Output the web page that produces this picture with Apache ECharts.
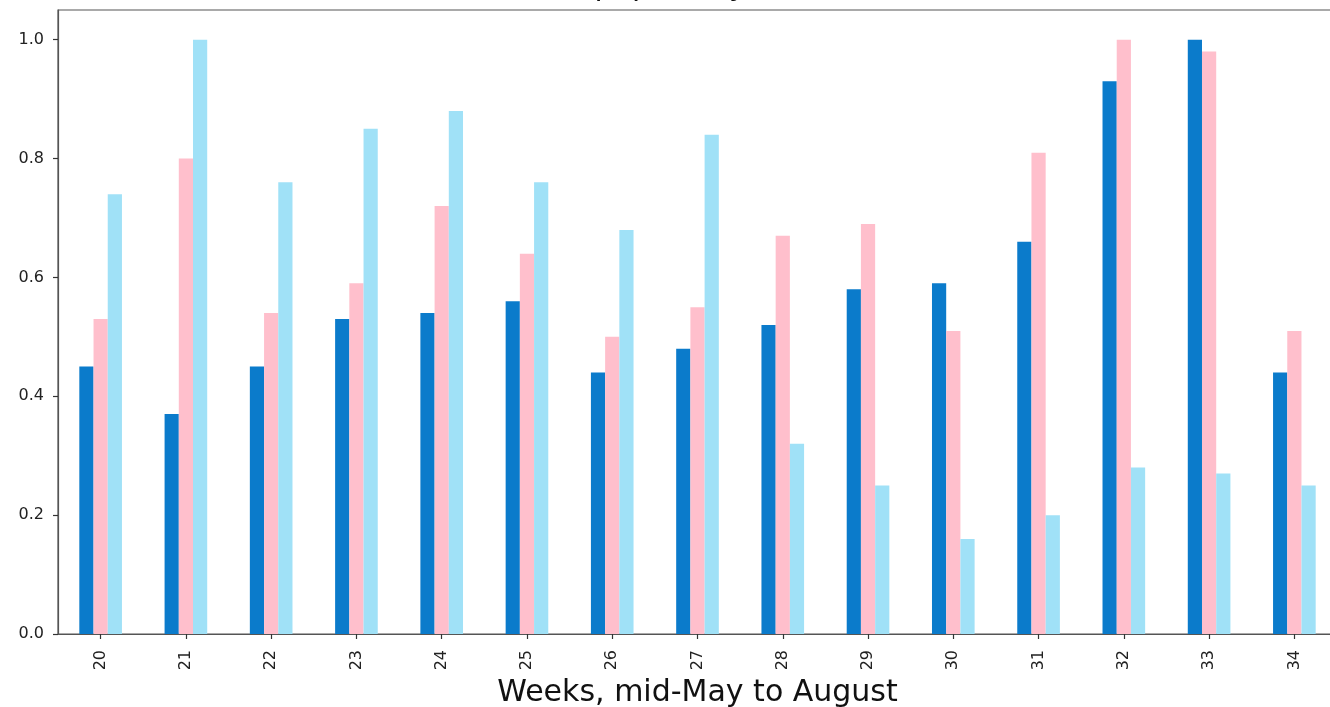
<!DOCTYPE html>
<html>
<head>
<meta charset="utf-8">
<script src="https://cdn.jsdelivr.net/npm/echarts@6/dist/echarts.min.js"></script>
<style>
html,body{margin:0;padding:0;background:#fff;}
#chart{width:1330px;height:707px;}
</style>
</head>
<body>
<div id="chart"></div>
<script>
var weeks = ['20','21','22','23','24','25','26','27','28','29','30','31','32','33','34'];
var seriesBlue = [0.45, 0.37, 0.45, 0.53, 0.54, 0.56, 0.44, 0.48, 0.52, 0.58, 0.59, 0.66, 0.93, 1.0, 0.44];
var seriesPink = [0.53, 0.80, 0.54, 0.59, 0.72, 0.64, 0.50, 0.55, 0.67, 0.69, 0.51, 0.81, 1.0, 0.98, 0.51];
var seriesLight = [0.74, 1.0, 0.76, 0.85, 0.88, 0.76, 0.68, 0.84, 0.32, 0.25, 0.16, 0.20, 0.28, 0.27, 0.25];
var yTicks = [0, 0.2, 0.4, 0.6, 0.8, 1.0];
var titleText = 'Relative popularity of the colors';
var xName = 'Weeks, mid-May to August';

var FONT = 'DejaVu Sans';
var AXIS_COLOR = '#555';
var chart = echarts.init(document.getElementById('chart'), null, {renderer: 'canvas'});
chart.setOption({
  animation: false,
  backgroundColor: '#fff',
  title: {
    text: titleText,
    left: 464,
    top: -28,
    padding: 0,
    textStyle: {fontFamily: FONT, fontSize: 30, fontWeight: 'normal', color: '#111'}
  },
  grid: {
    left: 58, top: 10, width: 1279, bottom: 73,
    outerBoundsMode: 'none',
    show: true, borderColor: AXIS_COLOR, borderWidth: 1.2, backgroundColor: 'transparent',
    containLabel: false
  },
  xAxis: {
    type: 'category',
    data: weeks,
    name: xName,
    nameLocation: 'middle',
    nameGap: 42,
    nameTextStyle: {fontFamily: FONT, fontSize: 30, color: '#111'},
    axisLine: {show: true, lineStyle: {color: AXIS_COLOR, width: 1.2}},
    axisTick: {show: true, alignWithLabel: true, length: 5, lineStyle: {color: '#333', width: 1.2}},
    axisLabel: {rotate: 90, margin: 16, fontFamily: FONT, fontSize: 16, color: '#222', interval: 0},
    splitLine: {show: false}
  },
  yAxis: {
    type: 'value',
    min: 0,
    max: 1.05,
    axisLine: {show: true, lineStyle: {color: AXIS_COLOR, width: 1.2}},
    axisTick: {show: true, length: 5, customValues: yTicks, lineStyle: {color: '#333', width: 1.2}},
    axisLabel: {
      customValues: yTicks, margin: 14, fontFamily: FONT, fontSize: 16, color: '#222',
      formatter: function (v) { return Number(v).toFixed(1); }
    },
    splitLine: {show: false}
  },
  series: [
    {name: 'Blue', type: 'bar', data: seriesBlue, barGap: '0%', barCategoryGap: '50%', itemStyle: {color: '#0b7bcb'}},
    {name: 'Pink', type: 'bar', data: seriesPink, barGap: '0%', barCategoryGap: '50%', itemStyle: {color: '#ffbfcc'}},
    {name: 'Light blue', type: 'bar', data: seriesLight, barGap: '0%', barCategoryGap: '50%', itemStyle: {color: '#a0e1f7'}}
  ]
});
</script>
</body>
</html>
